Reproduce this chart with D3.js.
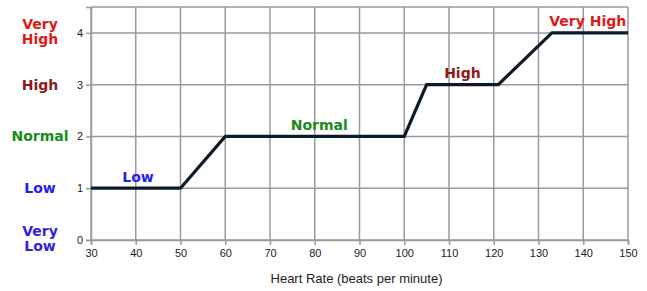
<!DOCTYPE html>
<html><head><meta charset="utf-8">
<script src="https://cdn.jsdelivr.net/npm/d3@7"></script>
<style>body{margin:0;background:#fff}svg{display:block}</style>
</head><body>
<svg id="c" width="647" height="291"></svg>
<script>
const heartRate = [30, 50, 60, 100, 105, 121, 133, 150];
const level = [1, 1, 2, 2, 3, 3, 4, 4];
const xTicks = [30,40,50,60,70,80,90,100,110,120,130,140,150];
const yTicks = [0,1,2,3,4];
const yCategoryLabels = [["Very","Low"],["Low"],["Normal"],["High"],["Very","High"]];
const yCategoryColors = ["#3322dd","#2222ee","#1a8a1a","#8b1a1a","#dd1a1a"];
const segLabels = ["Low","Normal","High","Very High"];
const segLabelX = [40.5, 81, 113, 141];
const segLabelY = [1, 2, 3, 4];
const segColors = ["#2222ee","#1a8a1a","#8b1a1a","#dd1a1a"];

const svg = d3.select("#c");
const x = d3.scaleLinear().domain([30,150]).range([91,628]);
const y = d3.scaleLinear().domain([0,4.5]).range([240,7]);

const g = svg.append("g");
// grid
g.selectAll(".vg").data(xTicks).join("line")
  .attr("x1",d=>x(d)).attr("x2",d=>x(d)).attr("y1",y(0)).attr("y2",y(4.5))
  .attr("stroke","#9a9a9a").attr("stroke-width",1.5);
g.selectAll(".hg").data(yTicks.concat([4.5])).join("line")
  .attr("x1",x(30)).attr("x2",x(150)).attr("y1",d=>y(d)).attr("y2",d=>y(d))
  .attr("stroke","#9a9a9a").attr("stroke-width",1.5);

// axes
const xa = svg.append("g").attr("transform",`translate(0,${y(0)})`)
  .call(d3.axisBottom(x).tickValues(xTicks).tickSize(5).tickPadding(4));
const ya = svg.append("g").attr("transform",`translate(${x(30)},0)`)
  .call(d3.axisLeft(y).tickValues(yTicks).tickSize(5).tickPadding(3).tickFormat(d3.format("d")));
[xa,ya].forEach(a=>{
  a.select(".domain").attr("stroke","#9a9a9a").attr("stroke-width",1.5);
  a.selectAll(".tick line").attr("stroke","#9a9a9a").attr("stroke-width",1.5);
  a.selectAll("text").attr("font-family","Liberation Sans, Arial, sans-serif").attr("font-size",11).attr("fill","#222");
});

// line
const line = d3.line().x((d,i)=>x(heartRate[i])).y((d,i)=>y(level[i]));
svg.append("path").datum(level).attr("d",line)
  .attr("fill","none").attr("stroke","#0c1a2a").attr("stroke-width",3.2).attr("stroke-linejoin","miter");

// segment labels
svg.selectAll(".sl").data(segLabels).join("text")
  .attr("x",(d,i)=>x(segLabelX[i])).attr("y",(d,i)=>y(segLabelY[i])-6.5)
  .attr("text-anchor","middle").attr("font-family","DejaVu Sans, sans-serif").attr("font-weight","bold")
  .attr("font-size",14).attr("fill",(d,i)=>segColors[i]).text(d=>d);

// category labels
yCategoryLabels.forEach((lines,i)=>{
  const t = svg.append("text").attr("text-anchor","middle")
    .attr("font-family","DejaVu Sans, sans-serif").attr("font-weight","bold").attr("font-size",14)
    .attr("fill",yCategoryColors[i]);
  const cy = y(yTicks[i]);
  const n = lines.length;
  lines.forEach((l,j)=>{
    t.append("tspan").attr("x",40).attr("y", n>1 ? cy - 4 + j*15 : cy + 5).text(l);
  });
});

// x title
svg.append("text").attr("x",x(90)-3).attr("y",283).attr("text-anchor","middle")
  .attr("font-family","Liberation Sans, Arial, sans-serif").attr("font-size",13).attr("fill","#222")
  .text("Heart Rate (beats per minute)");
</script>
</body></html>
